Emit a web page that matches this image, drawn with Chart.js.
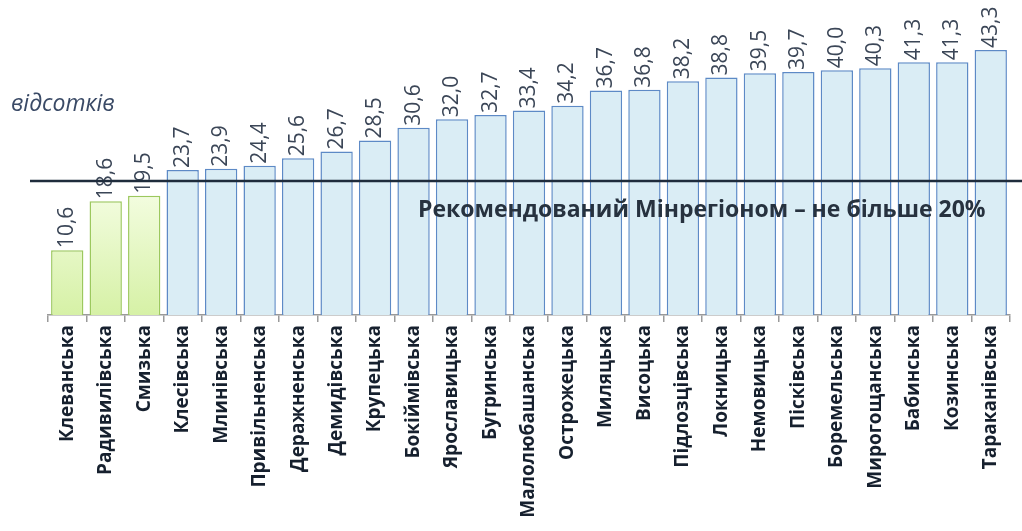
<!DOCTYPE html>
<html>
<head>
<meta charset="utf-8">
<script src="https://cdn.jsdelivr.net/npm/chart.js@4"></script>
<style>
  html, body { margin: 0; padding: 0; background: #fff; }
  #wrap { width: 1022px; height: 531px; position: relative; }
</style>
</head>
<body>
<div id="wrap"><canvas id="chart" width="1022" height="531"></canvas></div>
<script>
const categories = ['Клеванська', 'Радивилівська', 'Смизька', 'Клесівська', 'Млинівська',
  'Привільненська', 'Деражненська', 'Демидівська', 'Крупецька', 'Бокіймівська',
  'Ярославицька', 'Бугринська', 'Малолюбашанська', 'Острожецька', 'Миляцька',
  'Висоцька', 'Підлозцівська', 'Локницька', 'Немовицька', 'Пісківська',
  'Боремельська', 'Мирогощанська', 'Бабинська', 'Козинська', 'Тараканівська'];
const values = [10.6, 18.6, 19.5, 23.7, 23.9, 24.4, 25.6, 26.7, 28.5, 30.6,
  32.0, 32.7, 33.4, 34.2, 36.7, 36.8, 38.2, 38.8, 39.5, 39.7,
  40.0, 40.3, 41.3, 41.3, 43.3];
const limitValue = 20;
const limitLineAt = 21.9; // drawn line sits a bit above 20 in the picture
const unitLabel = 'відсотків';
const limitText = 'Рекомендований Мінрегіоном – не більше 20%';

function fillColor(ctx) {
  const v = values[ctx.dataIndex];
  if (v > limitValue) return '#daedf5';
  const area = ctx.chart.chartArea;
  if (!area) return '#e6f7c4';
  const g = ctx.chart.ctx.createLinearGradient(0, area.top + 180, 0, area.bottom);
  g.addColorStop(0, '#f4fde2');
  g.addColorStop(1, '#d6f1a6');
  return g;
}

const overlay = {
  id: 'overlay',
  afterDatasetsDraw(chart) {
    const c = chart.ctx;
    const y = chart.scales.y;
    const meta = chart.getDatasetMeta(0);
    c.save();
    // value labels
    c.fillStyle = '#3b4657';
    c.font = '21px "Open Sans", sans-serif';
    c.textAlign = 'left';
    c.textBaseline = 'middle';
    meta.data.forEach((bar, i) => {
      c.save();
      c.translate(bar.x, bar.y - 2);
      c.rotate(-Math.PI / 2);
      c.fillText(values[i].toFixed(1).replace('.', ','), 0, 0);
      c.restore();
    });
    // limit line
    const ly = y.getPixelForValue(limitLineAt);
    c.strokeStyle = '#1f2c3c';
    c.lineWidth = 2.5;
    c.beginPath();
    c.moveTo(30, ly);
    c.lineTo(chart.width, ly);
    c.stroke();
    // limit text
    c.fillStyle = '#27323f';
    c.font = 'bold 23px "Open Sans", sans-serif';
    c.textAlign = 'left';
    c.fillText(limitText, 418, ly + 29);
    // unit label
    c.fillStyle = '#3a4a66';
    c.font = 'italic 23px "Open Sans", sans-serif';
    c.fillText(unitLabel, 11, 104);
    c.restore();
  }
};

new Chart(document.getElementById('chart'), {
  type: 'bar',
  data: {
    labels: categories,
    datasets: [{
      data: values,
      backgroundColor: fillColor,
      borderColor: values.map(v => v > limitValue ? '#5d8ac6' : '#9cc85e'),
      borderWidth: 1.5,
      borderSkipped: 'bottom',
      barPercentage: 0.84,
      categoryPercentage: 1
    }]
  },
  options: {
    responsive: false,
    animation: false,
    layout: { padding: { left: 48, right: 12, top: 9, bottom: 0 } },
    plugins: { legend: { display: false }, tooltip: { enabled: false } },
    scales: {
      x: {
        offset: true,
        afterFit(scale) { scale.height = 216; },
        border: { display: true, color: '#9a9a9a', width: 1.5 },
        grid: { display: true, drawOnChartArea: false, offset: true, tickLength: 7, color: '#9a9a9a', lineWidth: 1.5 },
        ticks: {
          minRotation: 90, maxRotation: 90, autoSkip: false,
          color: '#16202e',
          font: { family: '"Open Sans", sans-serif', weight: 'bold', size: 19 }
        }
      },
      y: {
        display: false,
        min: 0,
        max: 50
      }
    }
  },
  plugins: [overlay]
});
</script>
</body>
</html>
